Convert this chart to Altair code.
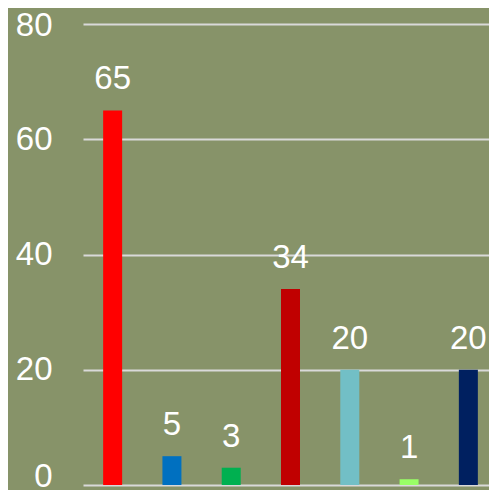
import altair as alt
import pandas as pd

categories = ["A", "B", "C", "D", "E", "F", "G"]
values = [65, 5, 3, 34, 20, 1, 20]
colors = ["#FF0000", "#0070C0", "#00B050", "#C00000", "#72BFC6", "#99FF66", "#002060"]

df = pd.DataFrame({"cat": categories, "val": values, "color": colors})

base = alt.Chart(df).encode(
    x=alt.X("cat:N", sort=categories, axis=None,
            scale=alt.Scale(paddingInner=0, paddingOuter=0)),
    y=alt.Y("val:Q", scale=alt.Scale(domain=[0, 80]),
            axis=alt.Axis(values=[0, 20, 40, 60, 80], title=None, domain=False,
                          ticks=False, labelPadding=31, labelFontSize=33,
                          labelOffset={"expr": "datum.value === 0 ? -9 : (datum.value === 80 ? 1 : 0)"},
                          labelColor="white", labelFont="Liberation Sans",
                          gridColor="#D9D9D9", gridWidth=2)),
)

bars = base.mark_bar(size=19).encode(color=alt.Color("color:N", scale=None))
labels = base.mark_text(dy=-31, fontSize=33, color="white", font="Liberation Sans").encode(
    text="val:Q")

page_css = "html,body{background:#879369}"

chart = (bars + labels).properties(
    width=415, height=461,
    padding={"left": 75, "top": 16, "right": -9, "bottom": 5},
    autosize=alt.AutoSizeParams(type="none"),
    background="#879369",
    usermeta={"embedOptions": {"defaultStyle": page_css}},
).configure_view(stroke=None)

chart.save("out.html", embed_options={"renderer": "svg", "actions": False})
